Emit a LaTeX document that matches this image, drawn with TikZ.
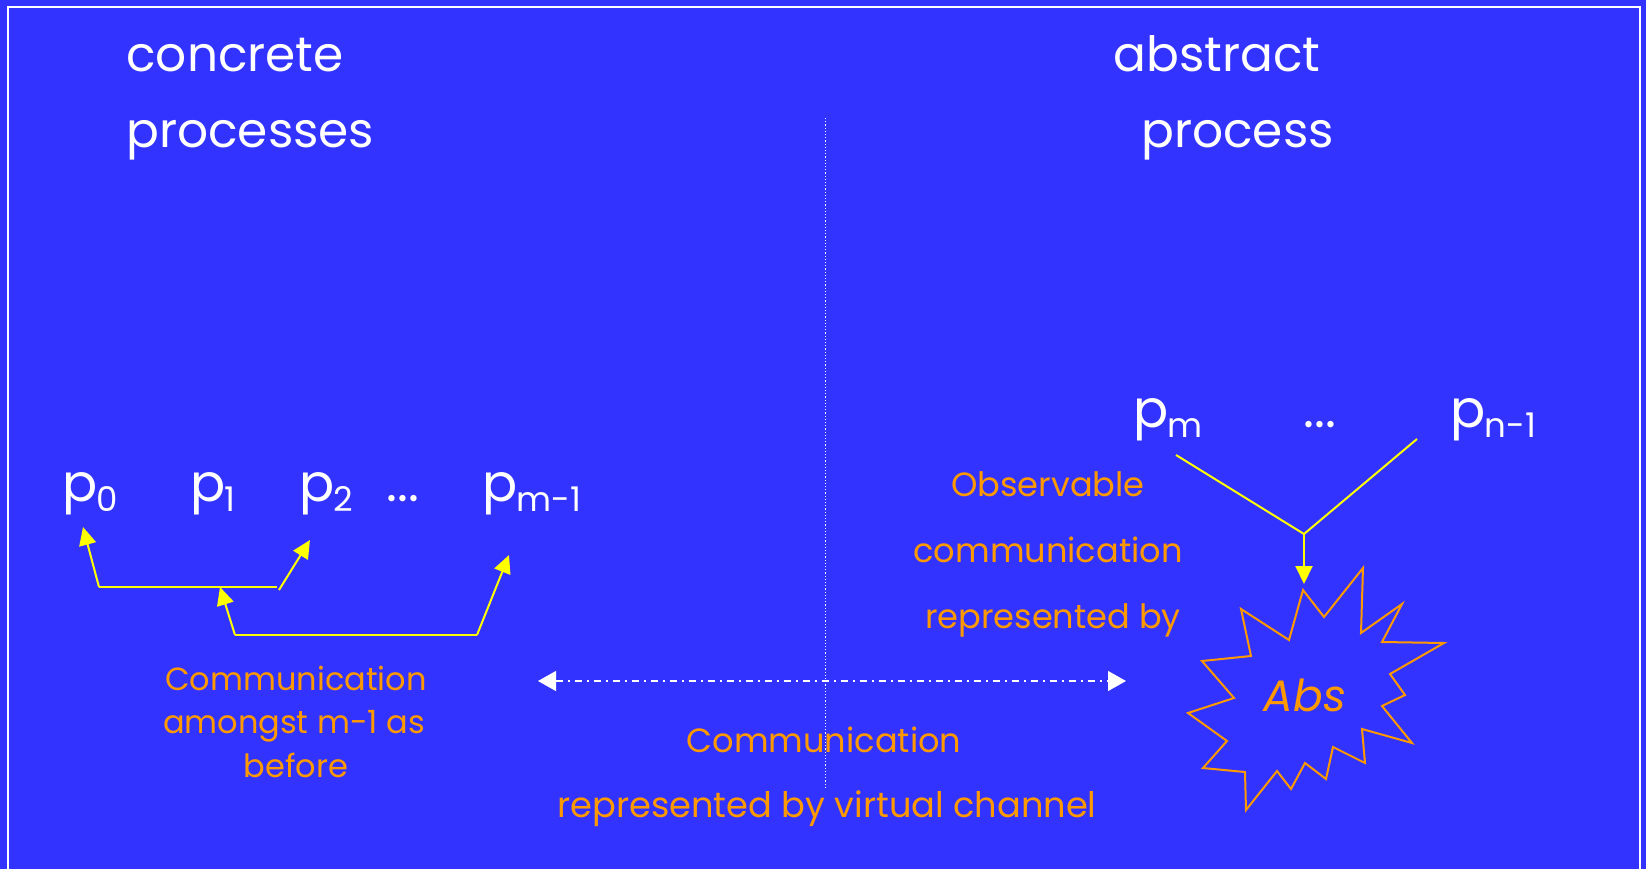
\documentclass[tikz,border=0pt]{standalone}
\usepackage{fontspec}
\setmainfont{Poppins}
\usetikzlibrary{arrows.meta}
\definecolor{bg}{HTML}{3333FF}
\definecolor{ora}{HTML}{FF9900}
\definecolor{yel}{HTML}{FFFF00}
% process name with a lowered subscript
\newcommand{\procname}[2]{p\kern-0.5pt\raisebox{-5pt}{\fontsize{17}{17}\selectfont #2}}
\begin{document}
\begin{tikzpicture}[x=0.5pt,y=-0.5pt,
  head/.style={text=white,font=\fontsize{24.3}{30}\selectfont,anchor=base west,inner sep=0pt},
  lbl/.style={text=ora,font=\fontsize{16.8}{20}\selectfont,anchor=base,inner sep=0pt},
  proc/.style={text=white,font=\fontsize{26}{30}\selectfont,anchor=base west,inner sep=0pt},
  link/.style={draw=yel,line width=1pt},
  ylarrow/.style={link,-{Triangle[length=9pt,width=8.5pt,fill=yel]}},
  virtual/.style={draw=white,line width=0.6pt,dash pattern=on 3.5pt off 2.5pt on 1pt off 2.5pt,
    {Triangle[length=9pt,width=10pt,fill=white]}-{Triangle[length=9pt,width=10pt,fill=white]}}
]
\useasboundingbox (0,0) rectangle (1646,869);
\fill[bg] (0,0) rectangle (1646,869);
\draw[white,line width=0.8pt] (8,7) rectangle (1640,900);

% headings
\node[head] (conc1) at (126,71) {concrete};
\node[head] (conc2) at (126,147) {processes};
\node[head] (abs1) at (1113,71) {abstract};
\node[head] (abs2) at (1141,147) {process};

% divider
\coordinate (divtop) at (825,118);
\coordinate (divbot) at (825,788);
\draw[white,line width=0.5pt,dash pattern=on 0.6pt off 1pt] (divtop) -- (divbot);

% concrete processes
\node[proc] (p0) at (62,501) {\procname{p}{0}};
\node[proc] (p1) at (190,501) {\procname{p}{1}};
\node[proc] (p2) at (299,501) {\procname{p}{2}};
\node[proc] (ldots) at (386,501) {...};
\node[proc] (pm1) at (482,501) {\procname{p}{m-1}};

% communication tree among the concrete processes
\coordinate (a1) at (99,587);
\coordinate (a2) at (277,587);
\coordinate (a2b) at (279,590);
\coordinate (t0) at (83,527);
\coordinate (t2) at (310,540);
\coordinate (b1) at (235,635);
\coordinate (b2) at (477,635);
\coordinate (tb) at (220,587);
\coordinate (tm) at (509,555);
\draw[link] (a1) -- (a2);
\draw[ylarrow] (a1) -- (t0);
\draw[ylarrow] (a2b) -- (t2);
\draw[link] (b1) -- (b2);
\draw[ylarrow] (b1) -- (tb);
\draw[ylarrow] (b2) -- (tm);

\node[lbl,font=\fontsize{16}{20}\selectfont] (lc1) at (296,690) {Communication};
\node[lbl,font=\fontsize{16}{20}\selectfont] (lc2) at (294,733) {amongst m-1 as};
\node[lbl,font=\fontsize{16}{20}\selectfont] (lc3) at (296,777) {before};

% abstract process side
\node[proc] (pm) at (1133,427) {\procname{p}{m}};
\node[proc] (rdots) at (1303,427) {...};
\node[proc] (pn1) at (1450,427) {\procname{p}{n-1}};
\coordinate (sm) at (1176,455);
\coordinate (sn) at (1417,439);
\coordinate (jn) at (1304,534);
\coordinate (ta) at (1304,584);
\draw[link] (sm) -- (jn) -- (sn);
\draw[ylarrow] (jn) -- (ta);

\node[lbl] (ob1) at (1048,496) {Observable};
\node[lbl] (ob2) at (1048,562) {communication};
\node[lbl] (ob3) at (1053,628) {represented by};

% the abstraction, drawn as a burst
\draw[ora,line width=1pt,line join=miter]
  (1303,590) -- (1324,617) -- (1363,568) -- (1361,633) -- (1402,604) -- (1382,642)
  -- (1444,643) -- (1390,674) -- (1405,695) -- (1382,706) -- (1412,743) -- (1362,729)
  -- (1365,763) -- (1333,747) -- (1326,779) -- (1305,763) -- (1291,789) -- (1277,771)
  -- (1246,810) -- (1245,772) -- (1203,768) -- (1227,741) -- (1188,713) -- (1234,698)
  -- (1202,661) -- (1251,656) -- (1241,609) -- (1289,640) -- cycle;
\node[text=ora,font=\fontsize{22}{24}\selectfont\itshape] (abs) at (1305,695) {Abs};

% virtual channel
\coordinate (vl) at (538,681);
\coordinate (vr) at (1126,681);
\draw[virtual] (vl) -- (vr);
\node[lbl] (vc1) at (824,752) {Communication};
\node[lbl,font=\fontsize{17.6}{20}\selectfont] (vc2) at (827,817) {represented by virtual channel};
\end{tikzpicture}
\end{document}
